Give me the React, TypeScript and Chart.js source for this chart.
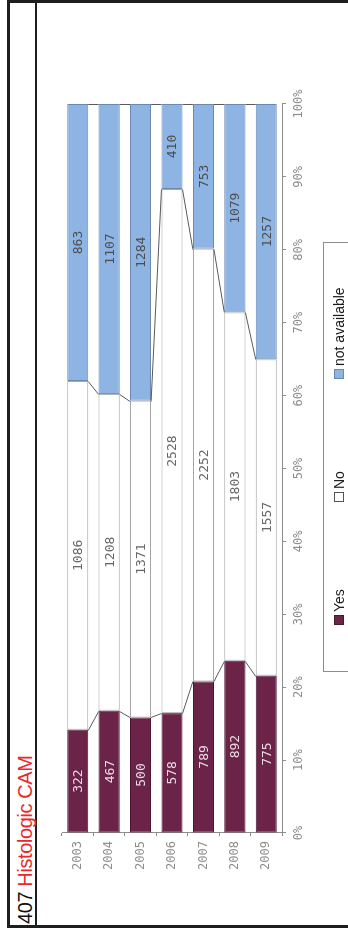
import React, { useEffect, useRef } from "react";
import { Chart, registerables } from "chart.js";

Chart.register(...registerables);

const titleNumber = "407";
const titleName = "Histologic CAM";
const years = ["2003", "2004", "2005", "2006", "2007", "2008", "2009"];
const yesCounts = [322, 467, 500, 578, 789, 892, 775];
const noCounts = [1086, 1208, 1371, 2528, 2252, 1803, 1557];
const naCounts = [863, 1107, 1284, 410, 753, 1079, 1257];
const seriesNames = ["Yes", "No", "not available"];
const seriesFills = ["#6b2348", "#ffffff", "#8eb4e3"];
const seriesEdges = ["#4a1631", "#a6a6a6", "#6a88b0"];
const labelColors = ["#eadde4", "#666666", "#4d4d4d"];
const percentStep = 10;

const MONO = "'DejaVu Sans Mono', monospace";

const seriesLinesPlugin = {
  id: "seriesLines",
  afterDatasetsDraw(chart: any) {
    const ctx = chart.ctx;
    ctx.save();
    ctx.strokeStyle = "#5a5a5a";
    ctx.lineWidth = 1;
    chart.data.datasets.forEach((_ds: any, di: number) => {
      const bars = chart.getDatasetMeta(di).data;
      for (let i = 0; i < bars.length - 1; i++) {
        const a = bars[i].getProps(["x", "y", "height"], true);
        const b = bars[i + 1].getProps(["x", "y", "height"], true);
        ctx.beginPath();
        ctx.moveTo(Math.round(a.x) - 0.5, a.y + a.height / 2);
        ctx.lineTo(Math.round(b.x) - 0.5, b.y - b.height / 2);
        ctx.stroke();
      }
    });
    ctx.restore();
  },
};

const valueLabelsPlugin = {
  id: "valueLabels",
  afterDatasetsDraw(chart: any) {
    const ctx = chart.ctx;
    ctx.save();
    ctx.font = `13px ${MONO}`;
    ctx.textAlign = "center";
    ctx.textBaseline = "middle";
    chart.data.datasets.forEach((ds: any, di: number) => {
      const bars = chart.getDatasetMeta(di).data;
      bars.forEach((bar: any, i: number) => {
        const p = bar.getProps(["x", "y", "base"], true);
        ctx.fillStyle = labelColors[di];
        ctx.fillText(String(ds.counts[i]), (p.x + p.base) / 2, p.y + 1);
      });
    });
    ctx.restore();
  },
};

export default function App() {
  const ref = useRef<HTMLCanvasElement>(null);

  useEffect(() => {
    if (!ref.current) return;
    const totals = years.map((_, i) => yesCounts[i] + noCounts[i] + naCounts[i]);
    const allCounts = [yesCounts, noCounts, naCounts];
    const datasets = allCounts.map((counts, di) => ({
      label: seriesNames[di],
      data: counts.map((v, i) => (v / totals[i]) * 100),
      counts,
      backgroundColor: seriesFills[di],
      borderColor: seriesEdges[di],
      borderWidth: 1,
      borderSkipped: false,
      barPercentage: 0.67,
      categoryPercentage: 1,
    }));
    const chart = new Chart(ref.current, {
      type: "bar",
      data: { labels: years, datasets: datasets as any },
      options: {
        indexAxis: "y",
        animation: false,
        responsive: false,
        maintainAspectRatio: false,
        layout: { padding: { left: 20, right: 104, top: 62, bottom: 36 } },
        scales: {
          x: {
            stacked: true,
            min: 0,
            max: 100,
            afterFit: (s: any) => {
              s.height = 30;
            },
            ticks: {
              stepSize: percentStep,
              callback: (v: any) => `${v}%`,
              font: { family: MONO, size: 12 },
              color: "#8c8c8c",
              padding: 6,
              maxRotation: 0,
            },
            grid: { drawOnChartArea: false, drawTicks: true, tickLength: 4, color: "#8c8c8c" },
            border: { color: "#8c8c8c" },
          },
          y: {
            stacked: true,
            afterFit: (s: any) => {
              s.width = 77;
            },
            ticks: {
              font: { family: MONO, size: 12 },
              color: "#8c8c8c",
              padding: 5,
            },
            grid: { drawOnChartArea: false, drawTicks: true, tickLength: 3, color: "#8c8c8c", offset: true },
            border: { color: "#8c8c8c" },
          },
        },
        plugins: { legend: { display: false }, tooltip: { enabled: false } },
      },
      plugins: [seriesLinesPlugin, valueLabelsPlugin],
    });
    return () => chart.destroy();
  }, []);

  const slot = 123;

  return (
    <div
      style={{
        position: "fixed",
        left: 0,
        top: 0,
        width: 348,
        height: 930,
        overflow: "hidden",
        background: "#fff",
      }}
    >
      <div
        style={{
          position: "absolute",
          left: 0,
          top: 0,
          width: 930,
          height: 348,
          overflow: "hidden",
          transformOrigin: "0 0",
          transform: "translateY(930px) rotate(-90deg)",
          background: "#fff",
        }}
      >
        {/* frame */}
        <div
          style={{
            position: "absolute",
            left: 2,
            top: 7,
            width: 928,
            height: 400,
            boxSizing: "border-box",
            borderLeft: "3px solid #1e1e1e",
            borderTop: "3px solid #1e1e1e",
            borderRight: "3px solid #1e1e1e",
          }}
        />
        <div
          style={{
            position: "absolute",
            left: 2,
            top: 35,
            width: 928,
            height: 2,
            background: "#1e1e1e",
          }}
        />
        <div
          style={{
            position: "absolute",
            left: 6,
            top: 15,
            fontFamily: "'Liberation Sans', Arial, sans-serif",
            fontSize: 20,
            lineHeight: "20px",
            letterSpacing: "-0.4px",
            whiteSpace: "nowrap",
          }}
        >
          <span style={{ color: "#111" }}>{titleNumber}</span>{" "}
          <span style={{ color: "#e8282e" }}>{titleName}</span>
        </div>
        <canvas
          ref={ref}
          width={930}
          height={348}
          style={{ position: "absolute", left: 0, top: 0, width: 930, height: 348 }}
        />
        {/* legend */}
        <div
          style={{
            position: "absolute",
            left: 258,
            top: 323,
            width: 430,
            height: 60,
            boxSizing: "border-box",
            border: "1px solid #8c8c8c",
            background: "#fff",
          }}
        >
          {seriesNames.map((name, i) => (
            <div
              key={name}
              style={{
                position: "absolute",
                left: 46 + i * slot,
                top: 7,
                display: "flex",
                alignItems: "center",
                whiteSpace: "nowrap",
                fontFamily: "'Liberation Sans', Arial, sans-serif",
                fontSize: 14,
                lineHeight: "16px",
                color: "#1a1a1a",
              }}
            >
              <span
                style={{
                  display: "inline-block",
                  width: 10,
                  height: 10,
                  boxSizing: "border-box",
                  background: seriesFills[i],
                  border: `1px solid ${i === 1 ? "#555" : seriesEdges[i]}`,
                  marginRight: 3,
                }}
              />
              <span>{name}</span>
            </div>
          ))}
        </div>
      </div>
    </div>
  );
}
